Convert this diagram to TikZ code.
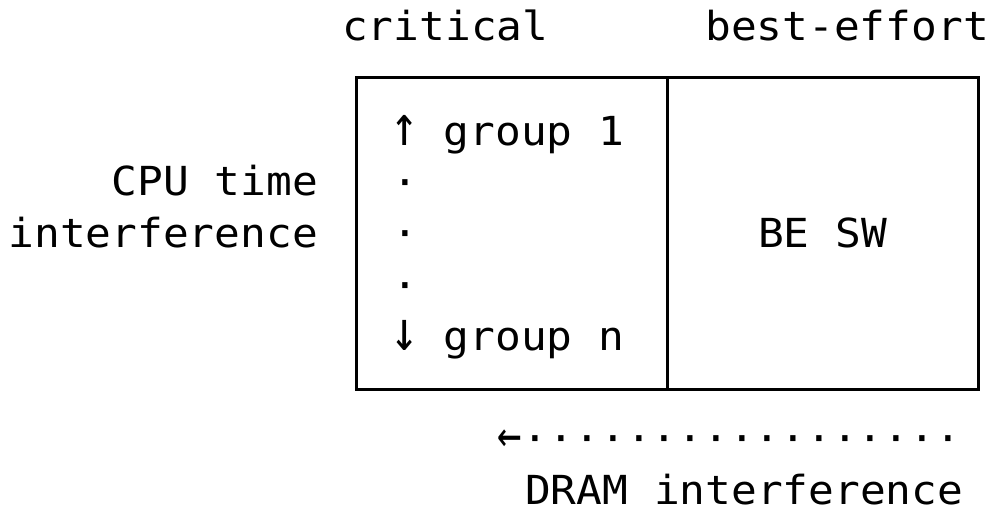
\documentclass[tikz,border=0pt]{standalone}
\usepackage{fontspec}
\setmonofont[FakeStretch=1.07]{DejaVu Sans Mono}
\usetikzlibrary{positioning}
\newcommand{\bigarr}[3]{\makebox[0.644em]{\scalebox{#1}[#2]{#3}}}
\tikzset{
  every node/.style={
    inner sep=0pt,
    font=\ttfamily\fontsize{40}{48}\selectfont
  },
  cell/.style={
    draw,
    line width=3pt,
    outer sep=0pt,
    minimum width=311pt,
    minimum height=312pt
  }
}

\begin{document}
\begin{tikzpicture}[x=1pt,y=-1pt]
      \useasboundingbox (0,0) rectangle (996,512);
      % the two cells
      \node [cell] (Crit) at (511.5,233) {};
      \node [cell, right=0pt of Crit] (BE) {BE SW};
      % column heads
      \node [anchor=base west] (CritHead) at (342,40) {critical};
      \node [anchor=base east] (BEHead) at (989,40) {best-effort};
      % groups inside the critical cell
      \node [anchor=base west] (GroupOne) at (392,145) {\bigarr{1.1}{1.4}{↑} group 1};
      \node [anchor=base west] (DotA) at (392,196) {·};
      \node [anchor=base west] (DotB) at (392,247) {·};
      \node [anchor=base west] (DotC) at (392,299) {·};
      \node [anchor=base west] (GroupN) at (392,350) {\bigarr{1.1}{1.4}{↓} group n};
      % row label
      \node [anchor=base east] (CPU) at (318,195) {CPU time};
      \node [anchor=base east] (CPUb) at (318,247) {interference};
      % DRAM
      \node [anchor=base west] (DramArrow) at (497,452) {\bigarr{0.95}{1.3}{←}·················};
      \node [anchor=base west] (Dram) at (525,504) {DRAM interference};
    \end{tikzpicture}
\end{document}
